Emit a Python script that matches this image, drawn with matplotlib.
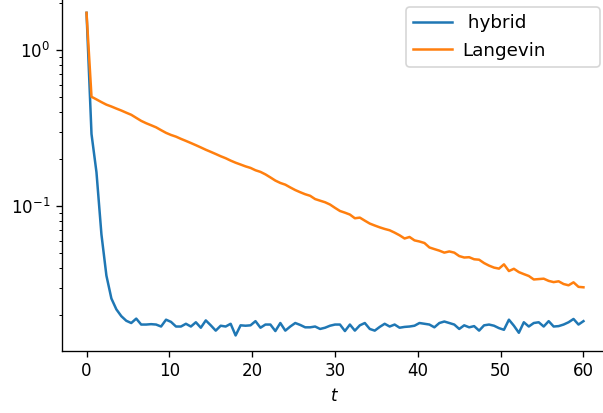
import numpy as np
import matplotlib
matplotlib.use("Agg")
import matplotlib.pyplot as plt

t = np.round(np.arange(101) * 0.6, 2)

hybrid = [
    1.73, 0.29, 0.165, 0.066, 0.036, 0.0257, 0.0219, 0.0198, 0.0185, 0.0179,
    0.0191, 0.0175, 0.0175, 0.0176, 0.0175, 0.0170, 0.0188, 0.0182, 0.0170, 0.0170,
    0.0177, 0.0170, 0.0181, 0.0167, 0.0186, 0.0173, 0.0160, 0.0172, 0.0170, 0.0177,
    0.0149, 0.0173, 0.0172, 0.0173, 0.0184, 0.0167, 0.0175, 0.0175, 0.0159, 0.0179,
    0.0160, 0.0170, 0.0179, 0.0174, 0.0168, 0.0168, 0.0170, 0.0164, 0.0167, 0.0172,
    0.0175, 0.0175, 0.0159, 0.0175, 0.0160, 0.0173, 0.0179, 0.0164, 0.0160, 0.0169,
    0.0177, 0.0170, 0.0175, 0.0167, 0.0169, 0.0170, 0.0172, 0.0179, 0.0177, 0.0175,
    0.0168, 0.0179, 0.0183, 0.0179, 0.0175, 0.0164, 0.0173, 0.0168, 0.0171, 0.0160,
    0.0173, 0.0175, 0.0172, 0.0166, 0.0162, 0.0188, 0.0172, 0.0155, 0.0181, 0.0170,
    0.0179, 0.0181, 0.0170, 0.0184, 0.0170, 0.0171, 0.0175, 0.0181, 0.0190, 0.0175,
    0.0184,
]

langevin = [
    1.73, 0.502, 0.483, 0.464, 0.447, 0.435, 0.422, 0.410, 0.397, 0.385,
    0.368, 0.352, 0.340, 0.330, 0.320, 0.307, 0.295, 0.286, 0.279, 0.270,
    0.262, 0.254, 0.246, 0.238, 0.230, 0.223, 0.216, 0.209, 0.203, 0.196,
    0.190, 0.185, 0.180, 0.176, 0.170, 0.166, 0.160, 0.153, 0.146, 0.141,
    0.1375, 0.132, 0.127, 0.123, 0.1194, 0.1167, 0.1112, 0.1086, 0.1061, 0.1026,
    0.0977, 0.0933, 0.0910, 0.0885, 0.0838, 0.0846, 0.0809, 0.0775, 0.0753, 0.0733,
    0.0716, 0.0702, 0.0678, 0.0652, 0.0622, 0.0636, 0.0605, 0.0595, 0.0582, 0.0545,
    0.0532, 0.0520, 0.0505, 0.0514, 0.0505, 0.0480, 0.0470, 0.0472, 0.0458, 0.0455,
    0.0433, 0.0417, 0.0405, 0.0399, 0.0425, 0.0385, 0.0398, 0.0379, 0.0368, 0.0358,
    0.0340, 0.0342, 0.0344, 0.0333, 0.0327, 0.0331, 0.0318, 0.0312, 0.0326, 0.0305,
    0.0303,
]

fig = plt.figure(figsize=(603 / 120, 413 / 120), dpi=120)
ax = fig.add_axes([0.1023, 0.1508, 0.9065, 0.8569])
ax.plot(t, hybrid, color="#1f77b4", lw=1.5, label=" hybrid")
ax.plot(t, langevin, color="#ff7f0e", lw=1.5, label="Langevin")
ax.set_yscale("log")
ax.set_xlim(-3, 63)
ax.set_ylim(0.0119, 2.19)
ax.set_xlabel("$t$")
ax.legend(loc="upper right", bbox_to_anchor=(0.630, 0.0, 0.3546, 0.9712),
          mode="expand", borderaxespad=0, fontsize=11, handletextpad=0.55,
          handlelength=2.1)
fig.savefig("out.png", dpi=120)
